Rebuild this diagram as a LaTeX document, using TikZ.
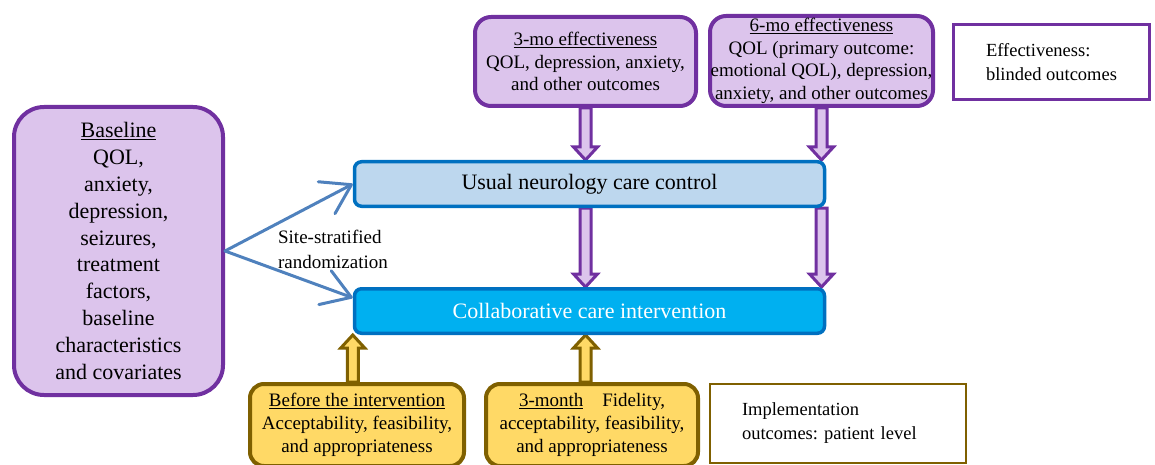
\documentclass[tikz,border=0pt]{standalone}
\usepackage{fontspec}
\setmainfont{Liberation Serif}
\frenchspacing
\usepackage{tikz}
\usetikzlibrary{
  arrows.meta,
  calc,
  backgrounds
}
\definecolor{outcomeline}{HTML}{7030A0}
\definecolor{outcomefill}{HTML}{DCC4EC}
\definecolor{armline}{HTML}{0070C0}
\definecolor{usualfill}{HTML}{BDD7EE}
\definecolor{collabfill}{HTML}{00B0F0}
\definecolor{implline}{HTML}{7F6000}
\definecolor{implfill}{HTML}{FFD966}
\definecolor{randline}{HTML}{4F81BD}
\tikzset{
  every box/.style={inner sep=0pt,align=center},
  outcome box/.style={every box,draw=outcomeline,fill=outcomefill,line width=4pt,
    rounded corners=16pt,font=\fontsize{19}{22.6}\selectfont},
  arm box/.style={every box,draw=armline,line width=3.5pt,rounded corners=7pt,
    minimum width=470pt,minimum height=44.5pt,font=\fontsize{22}{26}\selectfont},
  impl box/.style={every box,draw=implline,fill=implfill,line width=4pt,
    rounded corners=14pt,minimum width=214pt,minimum height=82pt,
    font=\fontsize{19}{23}\selectfont},
  key box/.style={every box,fill=white,align=left,font=\fontsize{18.5}{24}\selectfont},
  random arrow/.style={draw=randline,line width=3pt,line cap=round,
    -{Straight Barb[length=28pt,width=36pt,round]}},
  purple arrow/.style={draw=outcomeline,fill=outcomefill,line width=3pt},
  gold arrow/.style={draw=implline,fill=implfill,line width=3pt},
}
% hollow block arrow: #1 style, #2 tail, #3 tip
\newcommand\fatarrow[3]{%
  \path (#2) coordinate (fa-s) (#3) coordinate (fa-e);
  \path ($(fa-e)!13pt!(fa-s)$) coordinate (fa-h);
  \draw[#1] ($(fa-s)!5.5pt!90:(fa-e)$) -- ($(fa-h)!5.5pt!-90:(fa-s)$)
    -- ($(fa-h)!12pt!-90:(fa-s)$) -- (fa-e) -- ($(fa-h)!12pt!90:(fa-s)$)
    -- ($(fa-h)!5.5pt!90:(fa-s)$) -- ($(fa-s)!5.5pt!-90:(fa-e)$) -- cycle;
}

\begin{document}
\begin{tikzpicture}[x=1pt,y=-1pt]
\useasboundingbox (0,0) rectangle (1155,465);

\node[outcome box,rounded corners=30pt,minimum width=209pt,minimum height=288pt,
  font=\fontsize{22}{26.8}\selectfont] (baseline) at (118.5,251)
  {\underline{Baseline}\\QOL,\\anxiety,\\depression,\\seizures,\\treatment\\factors,\\baseline\\characteristics\\and covariates};
\node[outcome box,minimum width=221pt,minimum height=89pt] (mo-3) at (585.5,61.5)
  {\underline{3-mo effectiveness}\\QOL, depression, anxiety,\\and other outcomes};
\node[outcome box,minimum width=223pt,minimum height=90pt] (mo-6) at (821.5,61)
  {\underline{6-mo effectiveness}\\QOL (primary outcome:\\emotional QOL), depression,\\anxiety, and other outcomes};
\node[key box,draw=outcomeline,line width=3pt,minimum width=196pt,minimum height=75pt] (eff-key) at (1051.5,62)
  {Effectiveness:\\blinded outcomes};

\node[arm box,fill=usualfill] (usual) at (589.5,184) {Usual neurology care control};
\node[arm box,fill=collabfill,text=white] (collab) at (589.5,311) {Collaborative care intervention};
\node[every box,align=left,font=\fontsize{19}{25}\selectfont] (rand) at (333,249)
  {Site-stratified\\randomization};

\node[impl box] (impl-before) at (357,425)
  {\underline{Before the intervention}\\Acceptability, feasibility,\\and appropriateness};
\node[impl box,minimum width=212pt] (impl-3) at (592,425)
  {\underline{3-month}\quad Fidelity,\\acceptability, feasibility,\\and appropriateness};
\node[key box,draw=implline,line width=2.5pt,minimum width=256pt,minimum height=79pt,
  text width=192pt] (impl-key) at (838,423.5)
  {Implementation\\outcomes: patient level};

\draw[random arrow] (baseline.east) -- (usual.west);
\draw[random arrow] (baseline.east) -- ($(collab.west)!0.55!(collab.north west)$);

\begin{pgfonlayer}{background}
\fatarrow{purple arrow}{mo-3.south}{mo-3.south |- usual.north}
\fatarrow{purple arrow}{mo-3.south |- usual.south}{mo-3.south |- collab.north}
\fatarrow{purple arrow}{mo-6.south}{mo-6.south |- usual.north}
\fatarrow{purple arrow}{mo-6.south |- usual.south}{mo-6.south |- collab.north}
\fatarrow{gold arrow}{collab.south west |- impl-before.north}{collab.south west}
\fatarrow{gold arrow}{mo-3.south |- impl-3.north}{mo-3.south |- collab.south}
\end{pgfonlayer}
\end{tikzpicture}
\end{document}
